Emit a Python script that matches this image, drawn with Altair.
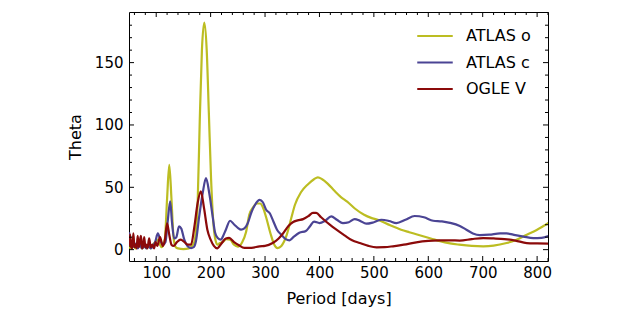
import altair as alt
import pandas as pd

# ---------------- data ----------------
series_names = ["ATLAS o", "ATLAS c", "OGLE V"]
series_colors = ["#bcbd22", "#4b4494", "#8b0a0a"]

period_o = [50, 54, 58, 62, 66, 70, 74, 78, 82, 86, 90, 94, 98, 102, 106, 110,
            116, 120, 124, 128, 132, 136, 140, 150, 160, 166, 170, 173,
            176, 180, 184, 188.4, 192.8, 196.8, 200.8, 204.8, 208.8, 213, 216, 222,
            229, 236, 243, 250, 258, 265, 271, 278, 285, 291, 296, 302, 310, 317,
            323, 330, 340, 348, 355, 366, 379, 390, 397, 405, 415, 428, 440, 451,
            465, 482, 495, 507, 530, 550, 565, 581, 600, 612, 620, 640, 657, 680,
            701, 720, 744, 760, 781, 800, 821]
theta_o = [2, 1, 3, 1, 2, 4, 1, 3, 1, 3, 1, 4, 6, 8, 5, 2,
           9, 41, 68, 41, 9, 2, 1, 0.5, 1, 3, 6, 15,
           35, 103, 160, 182, 160, 109, 57, 23, 8, 4, 5, 6,
           8.5, 8, 4, 2.5, 6, 14, 28, 34, 37, 37, 34, 26, 13, 4,
           1.3, 3, 12, 25, 36, 46, 52.5, 56.5, 58, 56.5, 53, 47, 42, 38.5,
           33, 28, 25.5, 24, 19.5, 16, 14, 12, 9.5, 8, 7, 5, 4, 3,
           2.7, 3.2, 5.3, 7.5, 12, 16, 21.5]

period_c = [50, 52, 54, 57, 60, 63, 66, 70, 74, 78, 82, 86, 90, 94, 98, 103, 108,
            113, 117, 121, 125.7, 129, 133, 137, 142, 146, 151.6, 157.7, 164, 169,
            173, 179, 185.3, 191.5, 197.6, 203.7, 208, 213, 219, 223, 228, 235.7,
            243.7, 250, 256, 262, 268, 275, 283, 290, 296, 302, 309, 315, 322, 330,
            338, 345, 352, 363, 375, 383, 390, 400, 410, 421.7, 432, 443, 454,
            464.7, 475, 486, 500, 514, 528, 541.5, 558, 575, 592, 609, 625, 640,
            658, 670, 682, 695, 712, 732, 744, 756, 775, 793, 808, 821]
theta_c = [14, 8, 3, 6, 2, 5, 1, 4, 1, 3, 1, 3, 1, 3, 6, 13, 7,
           4, 6, 22, 38.7, 22, 9, 10, 18.7, 17, 8, 2.7, 1.3, 2,
           6.7, 26.7, 45, 57.3, 45, 26.7, 14, 9.3, 8, 11, 16, 23.2,
           20, 17.5, 16, 17, 21, 30, 37, 40, 38, 32, 29, 23, 16, 12,
           8.5, 7.5, 10, 13.5, 15, 19, 22.5, 21.3, 23, 26.7, 24, 21.3, 22,
           24.5, 23, 20.8, 22, 24, 23, 21.3, 24, 27, 26, 23.2, 22.7, 21.5,
           19, 16, 13, 11.7, 12, 13, 13, 12, 10.5, 9.3, 9.5, 11]

period_v = [50, 52, 54, 56, 58, 60, 62, 64, 66, 68, 70, 72, 74, 76, 78, 80, 82, 84,
            87, 90, 93, 96, 99, 102, 107, 112, 116, 120, 124, 128, 132, 138, 145,
            152, 158, 164, 170, 176, 182, 188, 194, 200, 206, 212, 220, 228, 234,
            243, 252, 262, 275, 290, 300, 314, 325, 333, 343, 351, 360, 370, 380,
            388, 394, 403, 419, 428, 446, 460, 474, 490, 505, 520, 535, 555, 578,
            600, 621, 640, 658, 680, 701, 720, 740, 760, 781, 800, 821]
theta_v = [3, 12, 2, 1, 13, 2, 4, 1, 11, 2, 7, 11, 1, 3, 10, 2, 4, 1,
           9, 2, 4, 1, 6, 3, 10, 3, 8, 21, 12, 4, 3, 6, 8,
           6, 4, 4, 18, 37, 46.7, 33, 16, 8, 3, 1, 5, 9, 9.5,
           6, 3.5, 1.5, 1.5, 2.7, 3, 5.3, 9, 13, 19, 22, 23.5, 24.5, 27,
           29.5, 29.5, 26, 20, 17, 11.5, 7.5, 5.3, 3, 1.9, 2, 2.7, 4, 5.9,
           7, 7.4, 7.5, 7.3, 8.5, 9.3, 9, 8.5, 7.3, 5.3, 5, 4.8]

x_major = [100, 200, 300, 400, 500, 600, 700, 800]
x_minor = [v for v in range(60, 821, 20) if v % 100 != 0]
y_major = [0, 50, 100, 150]
y_minor = [v for v in range(10, 190, 10) if v % 50 != 0]

x_domain = [50, 820]
y_domain = [-9.1, 190.6]

# ---------------- layout ----------------
W, H = 419, 249
MAJ, MIN = 5, 3
FONT = "DejaVu Sans"

frames = []
for name, p, t in [(series_names[0], period_o, theta_o),
                   (series_names[1], period_c, theta_c),
                   (series_names[2], period_v, theta_v)]:
    frames.append(pd.DataFrame({"series": name, "period": p, "theta": t}))

xscale = alt.Scale(domain=x_domain, nice=False, zero=False)
yscale = alt.Scale(domain=y_domain, nice=False, zero=False)
x_axis = alt.Axis(title="Period [days]", values=x_major, format="d")
y_axis = alt.Axis(title="Theta", values=y_major, format="d")

color = alt.Color(
    "series:N",
    scale=alt.Scale(domain=series_names, range=series_colors),
    legend=alt.Legend(
        title=None, orient="none", legendX=293, legendY=11,
        symbolType="M-1.5,0H1.5", symbolSize=560, symbolStrokeWidth=2.2,
        labelFont=FONT, labelFontSize=16, labelColor="black",
        labelOffset=18, rowPadding=5.5, padding=0,
    ),
)

lines = []
for df in frames:
    lines.append(
        alt.Chart(df).mark_line(strokeWidth=2.2, interpolate="monotone", clip=True).encode(
            x=alt.X("period:Q", scale=xscale, axis=x_axis),
            y=alt.Y("theta:Q", scale=yscale, axis=y_axis),
            color=color,
        )
    )


def xticks(vals, length):
    d = pd.DataFrame({"v": vals})
    base = alt.Chart(d).mark_rule(color="black", strokeWidth=1)
    bot = base.encode(x=alt.X("v:Q", scale=xscale, axis=x_axis),
                      y=alt.value(H), y2=alt.value(H - length))
    top = base.encode(x=alt.X("v:Q", scale=xscale, axis=x_axis),
                      y=alt.value(0), y2=alt.value(length))
    return [bot, top]


def yticks(vals, length):
    d = pd.DataFrame({"v": vals})
    base = alt.Chart(d).mark_rule(color="black", strokeWidth=1)
    left = base.encode(y=alt.Y("v:Q", scale=yscale, axis=y_axis),
                       x=alt.value(0), x2=alt.value(length))
    right = base.encode(y=alt.Y("v:Q", scale=yscale, axis=y_axis),
                        x=alt.value(W - length), x2=alt.value(W))
    return [left, right]


ticks = xticks(x_major, MAJ) + xticks(x_minor, MIN) + yticks(y_major, MAJ) + yticks(y_minor, MIN)

chart = alt.layer(*lines, *ticks).properties(
    width=W, height=H,
    autosize=alt.AutoSizeParams(type="none"),
    padding={"left": 121, "top": 4, "right": 40, "bottom": 50},
).configure_view(
    stroke="black", strokeWidth=1
).configure_axis(
    domain=False, ticks=False, grid=False,
    labelFont=FONT, labelFontSize=15, labelColor="black",
    titleFont=FONT, titleFontSize=16, titleColor="black", titleFontWeight="normal",
).configure_axisX(
    labelPadding=4, titlePadding=10,
).configure_axisY(
    labelPadding=6, titlePadding=11,
)

chart.save("out.html", embed_options={"renderer": "svg", "actions": False})
